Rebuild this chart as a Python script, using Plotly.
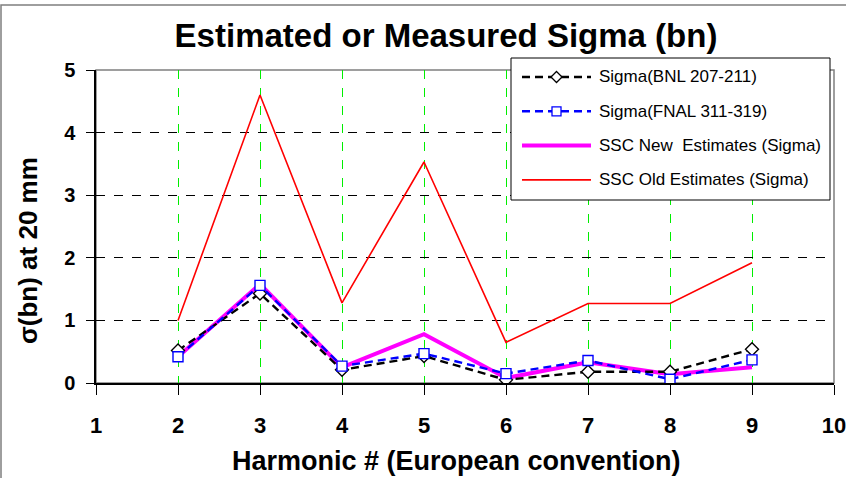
import plotly.graph_objects as go

# Harmonic numbers (European convention) and sigma(bn) at 20 mm
harmonic = [2, 3, 4, 5, 6, 7, 8, 9]
sigma_bnl = [0.52, 1.43, 0.21, 0.43, 0.05, 0.18, 0.18, 0.54]
sigma_fnal = [0.42, 1.56, 0.27, 0.47, 0.15, 0.36, 0.06, 0.37]
ssc_new = [0.42, 1.58, 0.25, 0.78, 0.08, 0.33, 0.14, 0.25]
ssc_old = [1.0, 4.6, 1.28, 3.53, 0.65, 1.27, 1.27, 1.92]

x_ticks = [1, 2, 3, 4, 5, 6, 7, 8, 9, 10]
y_ticks = [0, 1, 2, 3, 4, 5]

FONT = "Liberation Sans, Arial, sans-serif"
W, H = 846, 478
ML, MR, MT, MB = 96, 12, 70, 95
PW, PH = W - ML - MR, H - MT - MB


def px(x):
    """pixel column -> paper x"""
    return (x - ML) / PW


def py(y):
    """pixel row -> paper y"""
    return (H - MB - y) / PH


series = [
    dict(name="Sigma(BNL 207-211)", y=sigma_bnl, color="#000000", width=2.4,
         dash="8px,5px", symbol="diamond"),
    dict(name="Sigma(FNAL 311-319)", y=sigma_fnal, color="#0000ff", width=2.4,
         dash="8px,5px", symbol="square"),
    dict(name="SSC New\u00a0 Estimates (Sigma)", y=ssc_new, color="#ff00ff",
         width=4, dash="solid", symbol=None),
    dict(name="SSC Old Estimates (Sigma)", y=ssc_old, color="#ff0000",
         width=1.6, dash="solid", symbol=None),
]

fig = go.Figure()

# solid estimate lines underneath, measured series with markers on top
for s in [series[3], series[2], series[0], series[1]]:
    if s["symbol"]:
        fig.add_trace(go.Scatter(
            x=harmonic, y=s["y"], mode="lines+markers", name=s["name"],
            line=dict(color=s["color"], width=s["width"], dash=s["dash"]),
            marker=dict(symbol=s["symbol"], size=10, color="white",
                        line=dict(color=s["color"], width=1.4)),
            showlegend=False,
        ))
    else:
        fig.add_trace(go.Scatter(
            x=harmonic, y=s["y"], mode="lines", name=s["name"],
            line=dict(color=s["color"], width=s["width"]),
            showlegend=False,
        ))

shapes = []
annotations = []

# grey frame around the whole chart and around the plot area
shapes.append(dict(type="rect", xref="paper", yref="paper",
                   x0=px(1), x1=px(860), y0=py(500), y1=py(5),
                   line=dict(color="#7f7f7f", width=1.5), layer="below"))
shapes.append(dict(type="rect", xref="paper", yref="paper",
                   x0=0, x1=1, y0=0, y1=1,
                   line=dict(color="#7f7f7f", width=1.5), layer="below"))

# legend box with line samples, markers and labels
shapes.append(dict(type="rect", xref="paper", yref="paper",
                   x0=px(511), x1=px(830), y0=py(200), y1=py(58),
                   fillcolor="white", line=dict(color="#000000", width=1),
                   layer="above"))
for i, s in enumerate(series):
    ry = 77 + 34.3 * i
    shapes.append(dict(type="line", xref="paper", yref="paper",
                       x0=px(522), x1=px(591), y0=py(ry), y1=py(ry),
                       line=dict(color=s["color"], width=s["width"],
                                 dash=s["dash"]),
                       layer="above"))
    cx = 556.5
    if s["symbol"] == "diamond":
        r = 5.5
        path = (f"M {px(cx)} {py(ry - r)} L {px(cx + r)} {py(ry)} "
                f"L {px(cx)} {py(ry + r)} L {px(cx - r)} {py(ry)} Z")
        shapes.append(dict(type="path", xref="paper", yref="paper", path=path,
                           fillcolor="white",
                           line=dict(color=s["color"], width=1.3),
                           layer="above"))
    elif s["symbol"] == "square":
        r = 4.5
        shapes.append(dict(type="rect", xref="paper", yref="paper",
                           x0=px(cx - r), x1=px(cx + r),
                           y0=py(ry + r), y1=py(ry - r), fillcolor="white",
                           line=dict(color=s["color"], width=1.3),
                           layer="above"))
    annotations.append(dict(xref="paper", yref="paper", x=px(597), y=py(ry),
                            xanchor="left", yanchor="middle", showarrow=False,
                            text=s["name"],
                            font=dict(size=17, family=FONT, color="black")))

# axis titles
annotations.append(dict(xref="paper", yref="paper", x=px(456), y=py(461),
                        xanchor="center", yanchor="middle", showarrow=False,
                        text="<b>Harmonic # (European convention)</b>",
                        font=dict(size=27, family=FONT, color="black")))
annotations.append(dict(xref="paper", yref="paper", x=px(28), y=py(251),
                        xanchor="center", yanchor="middle", showarrow=False,
                        textangle=-90, text="<b>σ(bn) at 20 mm</b>",
                        font=dict(size=26, family=FONT, color="black")))

fig.update_layout(
    width=W, height=H,
    margin=dict(l=ML, r=MR, t=MT, b=MB, autoexpand=False),
    paper_bgcolor="white", plot_bgcolor="white",
    font=dict(family=FONT, color="black"),
    title=dict(text="<b>Estimated or Measured Sigma (bn)</b>",
               font=dict(size=33, family=FONT, color="black"),
               x=446 / W, xanchor="center", y=1 - 35 / H, yanchor="middle"),
    showlegend=False,
    shapes=shapes,
    annotations=annotations,
    xaxis=dict(
        range=[1, 10], tickvals=x_ticks, ticktext=[str(v) for v in x_ticks],
        automargin=False, ticklabeloverflow="allow",
        showgrid=True, gridcolor="#00ee00", griddash="dash", gridwidth=1,
        showline=True, linecolor="black", linewidth=1.5,
        ticks="outside", ticklen=10, tickcolor="black", tickwidth=1,
        tickfont=dict(size=22, family=FONT, color="black", weight="bold"),
        ticklabelstandoff=12,
        zeroline=False,
    ),
    yaxis=dict(
        range=[0, 5], tickvals=y_ticks, ticktext=[str(v) for v in y_ticks],
        automargin=False,
        showgrid=True, gridcolor="#000000", griddash="dash", gridwidth=1,
        showline=True, linecolor="black", linewidth=1.5,
        ticks="outside", ticklen=8, tickcolor="black", tickwidth=1,
        tickfont=dict(size=20, family=FONT, color="black", weight="bold"),
        ticklabelstandoff=7,
        zeroline=False,
    ),
)

fig.write_html("out.html")
